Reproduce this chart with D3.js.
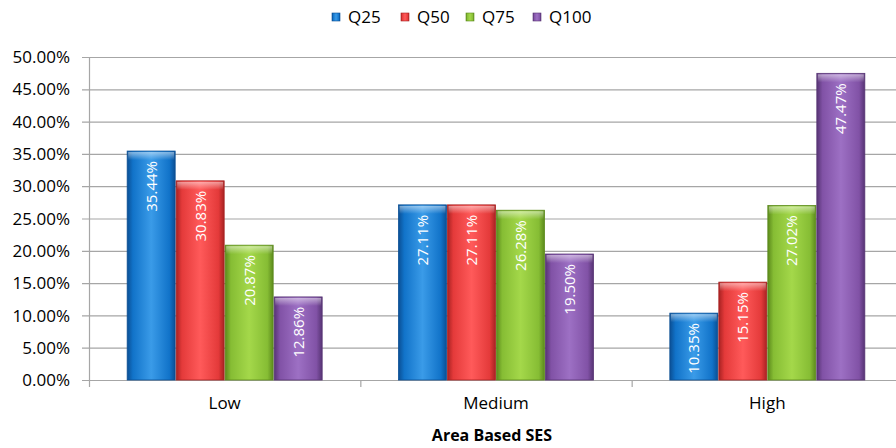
<!DOCTYPE html>
<html><head><meta charset="utf-8">
<script src="https://cdn.jsdelivr.net/npm/d3@7"></script>
<style>body{margin:0;background:#fff}svg{display:block}</style>
</head><body>
<svg id="c" width="896" height="448"></svg>
<script>
const categories = ["Low", "Medium", "High"];
const seriesNames = ["Q25", "Q50", "Q75", "Q100"];
const q25 = [35.44, 27.11, 10.35];
const q50 = [30.83, 27.11, 15.15];
const q75 = [20.87, 26.28, 27.02];
const q100 = [12.86, 19.50, 47.47];
const seriesValues = [q25, q50, q75, q100];
const yTicks = [0, 5, 10, 15, 20, 25, 30, 35, 40, 45, 50];
const colors = ["#1173c9", "#e43a3a", "#86bd34", "#8152a6"];
const darks = ["#0b4f94", "#a82222", "#5c8a1c", "#573474"];
const lights = ["#3a9be8", "#ff5a5a", "#a4d84a", "#9d70c4"];

const svg = d3.select("#c");
const font = "'Open Sans', sans-serif";
const m = {left: 89, right: 903, top: 57, bottom: 380};

const x0 = d3.scaleBand().domain(categories).range([m.left, m.right]).padding(0);
const groupW = 196;
const x1 = d3.scaleBand().domain(seriesNames).range([0, groupW]).padding(0);
const offset = (x0.bandwidth() - groupW) / 2;
const y = d3.scaleLinear().domain([0, 50]).range([m.bottom, m.top]);

const defs = svg.append("defs");
seriesNames.forEach((s, i) => {
  const g = defs.append("linearGradient").attr("id", "g" + i).attr("x1", 0).attr("x2", 1).attr("y1", 0).attr("y2", 0);
  g.append("stop").attr("offset", "0%").attr("stop-color", darks[i]);
  g.append("stop").attr("offset", "12%").attr("stop-color", colors[i]);
  g.append("stop").attr("offset", "50%").attr("stop-color", lights[i]);
  g.append("stop").attr("offset", "88%").attr("stop-color", colors[i]);
  g.append("stop").attr("offset", "100%").attr("stop-color", darks[i]);
  const t = defs.append("linearGradient").attr("id", "t" + i).attr("x1", 0).attr("x2", 0).attr("y1", 0).attr("y2", 1);
  t.append("stop").attr("offset", "0%").attr("stop-color", "#fff").attr("stop-opacity", 0.5);
  t.append("stop").attr("offset", "100%").attr("stop-color", "#fff").attr("stop-opacity", 0.0);
});

// gridlines
svg.append("g").selectAll("line").data(yTicks).join("line")
  .attr("x1", m.left - 7).attr("x2", m.right)
  .attr("y1", d => y(d) + 0.5).attr("y2", d => y(d) + 0.5)
  .attr("stroke", "#a6a6a6").attr("stroke-width", 1.2);

// y tick labels
svg.append("g").selectAll("text").data(yTicks).join("text")
  .attr("x", m.left - 19).attr("y", d => y(d)).attr("dy", "0.36em")
  .attr("text-anchor", "end").attr("font-family", font).attr("font-size", 17).attr("fill", "#000")
  .text(d => d.toFixed(2) + "%");

// y axis line
svg.append("line").attr("x1", m.left + 0.5).attr("x2", m.left + 0.5).attr("y1", m.top).attr("y2", m.bottom)
  .attr("stroke", "#a6a6a6").attr("stroke-width", 1.2);

// x axis
const xb = categories.map(c => x0(c)).concat([m.right]);
svg.append("line").attr("x1", m.left).attr("x2", m.right).attr("y1", m.bottom + 0.5).attr("y2", m.bottom + 0.5)
  .attr("stroke", "#a6a6a6").attr("stroke-width", 1.2);
svg.append("g").selectAll("line").data(xb).join("line")
  .attr("x1", d => d + 0.5).attr("x2", d => d + 0.5).attr("y1", m.bottom).attr("y2", m.bottom + 7)
  .attr("stroke", "#a6a6a6").attr("stroke-width", 1.2);

svg.append("g").selectAll("text").data(categories).join("text")
  .attr("x", d => x0(d) + x0.bandwidth() / 2).attr("y", 409)
  .attr("text-anchor", "middle").attr("font-family", font).attr("font-size", 17).attr("fill", "#000")
  .text(d => d);

svg.append("text").attr("x", 492).attr("y", 441)
  .attr("text-anchor", "middle").attr("font-family", font).attr("font-size", 16).attr("font-weight", "bold")
  .text("Area Based SES");

// bars
const data = [];
seriesNames.forEach((s, i) => categories.forEach((c, j) => data.push({s, i, c, v: seriesValues[i][j]})));
const bw = x1.bandwidth();
const bars = svg.append("g").selectAll("g").data(data).join("g")
  .attr("transform", d => `translate(${x0(d.c) + offset + x1(d.s)},0)`);
bars.append("rect").attr("x", 0.5).attr("width", bw - 1)
  .attr("y", d => y(d.v)).attr("height", d => m.bottom - y(d.v))
  .attr("fill", d => `url(#g${d.i})`).attr("stroke", d => darks[d.i]).attr("stroke-width", 0.8);
bars.append("rect").attr("x", 1.5).attr("width", bw - 3)
  .attr("y", d => y(d.v) + 1).attr("height", 8)
  .attr("fill", d => `url(#t${d.i})`);
bars.append("text")
  .attr("transform", d => `translate(${bw / 2},${y(d.v) + 10}) rotate(-90)`)
  .attr("dy", "0.36em").attr("text-anchor", "end")
  .attr("font-family", font).attr("font-size", 15).attr("fill", "#fff")
  .text(d => d.v.toFixed(2) + "%");

// legend
const legX = [332, 401, 466, 533];
const leg = svg.append("g").selectAll("g").data(seriesNames).join("g")
  .attr("transform", (d, i) => `translate(${legX[i]},13)`);
leg.append("rect").attr("width", 8).attr("height", 8)
  .attr("fill", (d, i) => `url(#g${i})`).attr("stroke", (d, i) => darks[i]).attr("stroke-width", 0.6);
leg.append("text").attr("x", 16).attr("y", 4).attr("dy", "0.36em")
  .attr("font-family", font).attr("font-size", 17).text(d => d);
</script>
</body></html>
